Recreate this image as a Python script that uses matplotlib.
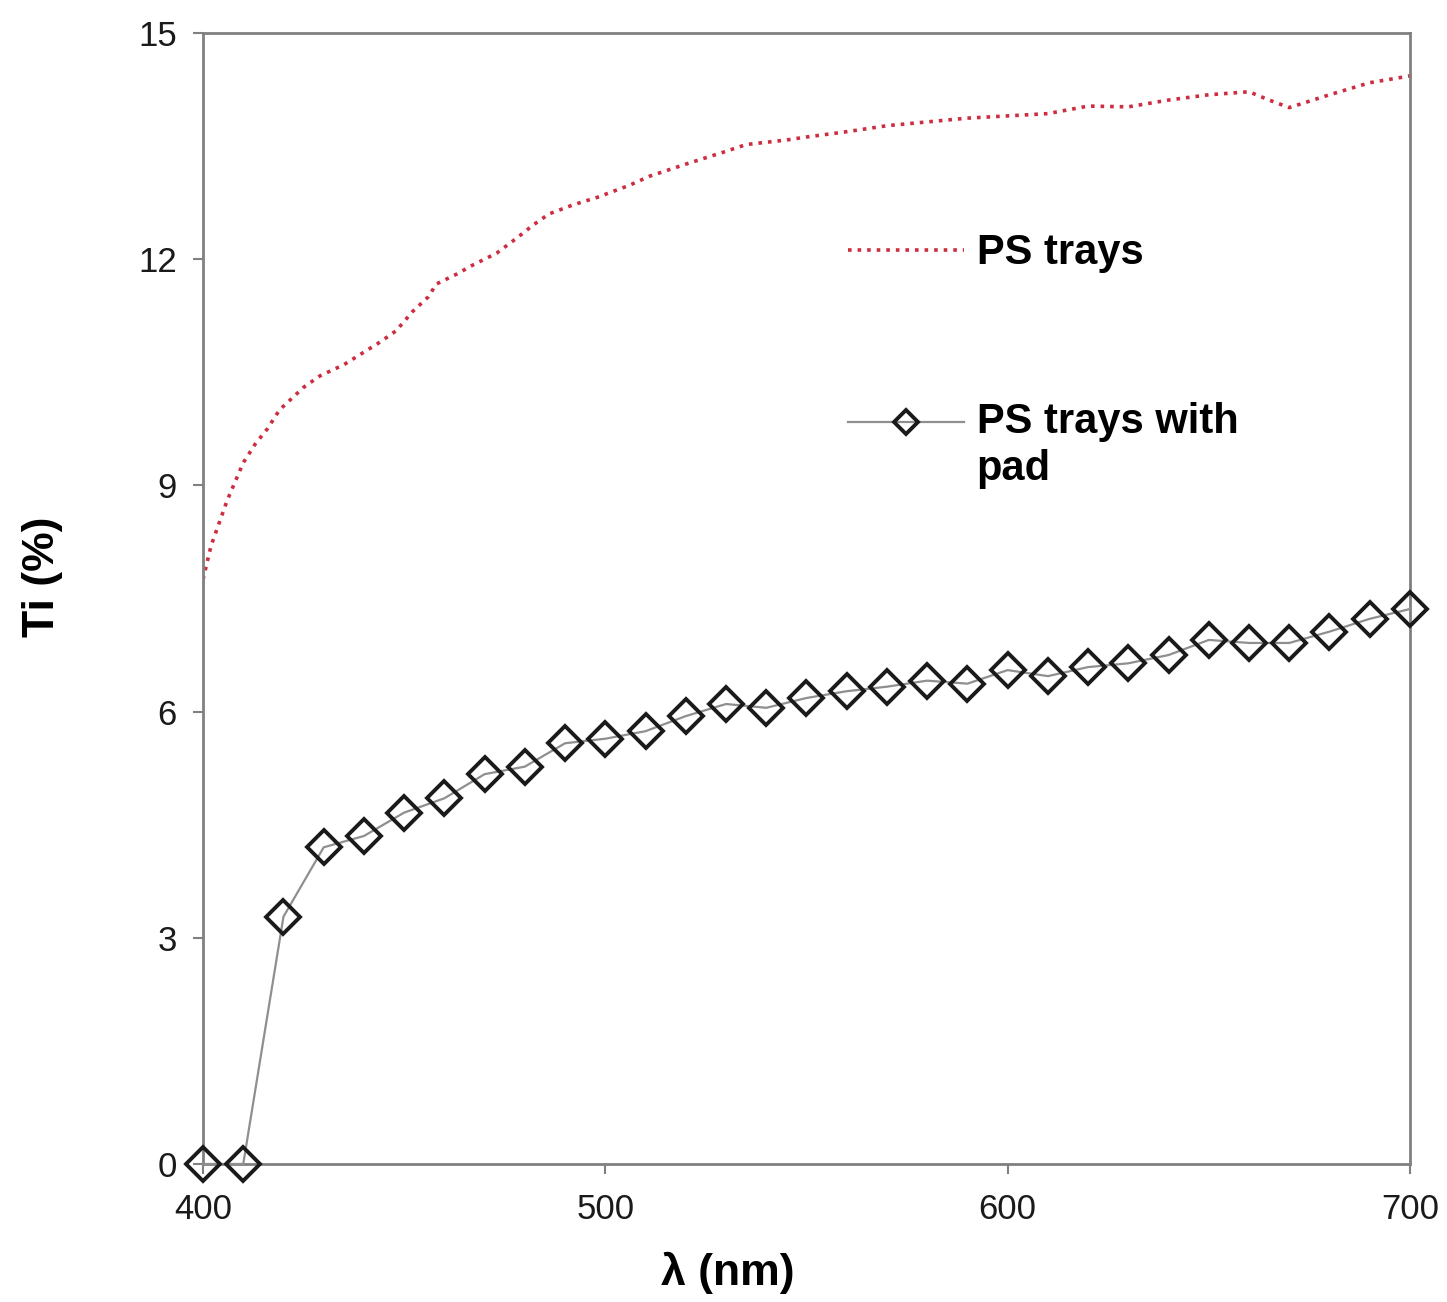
import matplotlib
matplotlib.use("Agg")
import matplotlib.pyplot as plt
import numpy as np
from matplotlib.legend_handler import HandlerLine2D

plt.rcParams['font.family'] = ['Liberation Sans', 'DejaVu Sans']

# PS trays (continuous spectrum)
ps_nm = [400, 402, 404, 406, 408, 410, 413, 416, 419, 422, 425, 429, 435, 438, 444,
         448, 452, 456, 458, 463, 467, 473, 478, 482, 486, 492, 498, 506, 511, 520,
         530, 535, 545, 550, 560, 570, 580, 590, 600, 610, 620, 630, 640, 650, 660,
         665, 670, 680, 690, 700]
ps_ti = [7.75, 8.2, 8.5, 8.8, 9.05, 9.3, 9.55, 9.75, 10.0, 10.15, 10.3, 10.45, 10.6, 10.7, 10.9,
         11.05, 11.3, 11.5, 11.67, 11.8, 11.92, 12.08, 12.28, 12.45, 12.6, 12.72, 12.82, 12.98, 13.1, 13.26,
         13.43, 13.52, 13.58, 13.62, 13.69, 13.77, 13.82, 13.87, 13.9, 13.93, 14.03, 14.02, 14.11, 14.18, 14.22,
         14.11, 14.01, 14.18, 14.34, 14.43]

# PS trays with pad
pad_nm = [400, 410, 420, 430, 440, 450, 460, 470, 480, 490, 500, 510, 520, 530, 540, 550,
          560, 570, 580, 590, 600, 610, 620, 630, 640, 650, 660, 670, 680, 690, 700]
pad_ti = [0.0, 0.0, 3.28, 4.20, 4.35, 4.66, 4.85, 5.17, 5.27, 5.58, 5.64, 5.74, 5.94, 6.10, 6.05, 6.18,
          6.27, 6.33, 6.41, 6.37, 6.55, 6.47, 6.59, 6.64, 6.75, 6.95, 6.91, 6.91, 7.06, 7.23, 7.36]

x_ticks = [400, 500, 600, 700]
y_ticks = [0, 3, 6, 9, 12, 15]


class FirstLineHandler(HandlerLine2D):
    """Legend handle aligned with the first line of a two-line label."""
    def __init__(self, shift, **kw):
        super().__init__(**kw)
        self.shift = shift

    def create_artists(self, *args, **kwargs):
        arts = super().create_artists(*args, **kwargs)
        for a in arts:
            a.set_ydata(np.asarray(a.get_ydata(), dtype=float) + self.shift)
        return arts


fig = plt.figure(figsize=(14.47, 13.02), dpi=100)
ax = fig.add_axes([0.1403, 0.106, 0.8341, 0.8687])

l1, = ax.plot(ps_nm, ps_ti, linestyle=':', color='#cc2d40', lw=2.6, label='PS trays')
l2, = ax.plot(pad_nm, pad_ti, linestyle='-', color='#8f8f8f', lw=1.6,
              marker='D', markersize=17.5, markerfacecolor='none', markeredgecolor='#1a1a1a',
              markeredgewidth=2.8, label='PS trays with\npad', clip_on=False, zorder=3)

ax.set_xlim(400, 700)
ax.set_ylim(0, 15)
ax.set_xticks(x_ticks)
ax.set_yticks(y_ticks)
ax.tick_params(axis='both', direction='out', length=7, width=1.5, color='#808080',
               labelsize=25, labelcolor='#1a1a1a')
ax.tick_params(axis='x', pad=14)
ax.tick_params(axis='y', pad=12)
for s in ax.spines.values():
    s.set_color('#808080')
    s.set_linewidth(2)

ax.set_xlabel('λ (nm)', fontsize=32, fontweight='bold')
ax.set_ylabel('Ti (%)', fontsize=32, fontweight='bold')
ax.xaxis.set_label_coords(0.435, -0.078)
ax.yaxis.set_label_coords(-0.116, 0.519)

leg = ax.legend(handles=[l1, l2], loc='upper left', bbox_to_anchor=(0.534, 0.823), frameon=False,
                prop={'size': 30, 'weight': 'bold'}, handlelength=2.8, handletextpad=0.3,
                labelspacing=3.1, borderpad=0, borderaxespad=0, markerscale=0.7,
                handler_map={l2: FirstLineHandler(shift=17.5)})

fig.savefig('out.png', dpi=100, facecolor='white')
